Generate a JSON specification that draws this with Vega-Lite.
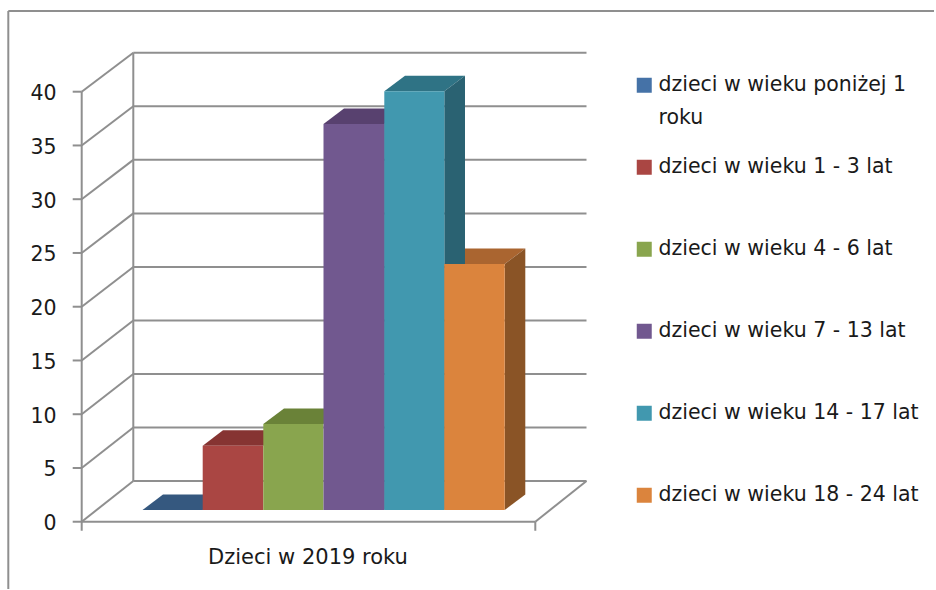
{
"$schema":"https://vega.github.io/schema/vega-lite/v6.json",
"autosize":{"type":"fit","contains":"padding"},
"width":936,"height":590,"padding":0,
"background":"white",
"config":{"view":{"stroke":null},"font":"DejaVu Sans"},
"datasets":{
"bars":[
{"series":"dzieci w wieku poniżej 1 roku","value":0,"x0":142.5,"x1":202.7,"base":1.09,"top":1.09},
{"series":"dzieci w wieku 1 - 3 lat","value":6,"x0":202.7,"x1":263.3,"base":1.09,"top":7.07},
{"series":"dzieci w wieku 4 - 6 lat","value":8,"x0":263.3,"x1":323.5,"base":1.09,"top":9.09},
{"series":"dzieci w wieku 7 - 13 lat","value":36,"x0":323.5,"x1":384.3,"base":1.09,"top":37.0},
{"series":"dzieci w wieku 14 - 17 lat","value":39,"x0":384.3,"x1":444.3,"base":1.09,"top":40.04},
{"series":"dzieci w wieku 18 - 24 lat","value":23,"x0":444.3,"x1":504.7,"base":1.09,"top":23.97}
],
"tops":[
{"series":"a","x":142.5,"lo":1.09,"hi":1.09},{"series":"a","x":163,"lo":1.09,"hi":2.53},{"series":"a","x":202.7,"lo":1.09,"hi":2.53},{"series":"a","x":223,"lo":2.53,"hi":2.53},
{"series":"b","x":202.7,"lo":7.07,"hi":7.07},{"series":"b","x":223,"lo":7.07,"hi":8.51},{"series":"b","x":263.3,"lo":7.07,"hi":8.51},{"series":"b","x":284,"lo":8.51,"hi":8.51},
{"series":"c","x":263.3,"lo":9.09,"hi":9.09},{"series":"c","x":284,"lo":9.09,"hi":10.53},{"series":"c","x":323.5,"lo":9.09,"hi":10.53},{"series":"c","x":344,"lo":10.53,"hi":10.53},
{"series":"d","x":323.5,"lo":37.0,"hi":37.0},{"series":"d","x":344,"lo":37.0,"hi":38.44},{"series":"d","x":384.3,"lo":37.0,"hi":38.44},{"series":"d","x":405,"lo":38.44,"hi":38.44},
{"series":"e","x":384.3,"lo":40.04,"hi":40.04},{"series":"e","x":405,"lo":40.04,"hi":41.48},{"series":"e","x":444.3,"lo":40.04,"hi":41.48},{"series":"e","x":465,"lo":41.48,"hi":41.48},
{"series":"f","x":444.3,"lo":23.97,"hi":23.97},{"series":"f","x":465,"lo":23.97,"hi":25.41},{"series":"f","x":504.7,"lo":23.97,"hi":25.41},{"series":"f","x":525.3,"lo":25.41,"hi":25.41}
],
"sides":[
{"series":"d","x":384.3,"lo":1.09,"hi":37.0},{"series":"d","x":405,"lo":2.53,"hi":38.44},
{"series":"e","x":444.3,"lo":1.09,"hi":40.04},{"series":"e","x":465,"lo":2.53,"hi":41.48},
{"series":"f","x":504.7,"lo":1.09,"hi":23.97},{"series":"f","x":525.3,"lo":2.53,"hi":25.41}
],
"lines":[
{"x":133.3,"y":3.79,"x2":586.5,"y2":3.79},{"x":133.3,"y":8.77,"x2":586.5,"y2":8.77},{"x":133.3,"y":13.74,"x2":586.5,"y2":13.74},{"x":133.3,"y":18.72,"x2":586.5,"y2":18.72},{"x":133.3,"y":23.7,"x2":586.5,"y2":23.7},{"x":133.3,"y":28.68,"x2":586.5,"y2":28.68},{"x":133.3,"y":33.66,"x2":586.5,"y2":33.66},{"x":133.3,"y":38.65,"x2":586.5,"y2":38.65},{"x":133.3,"y":43.63,"x2":586.5,"y2":43.63},
{"x":81.7,"y":0,"x2":133.3,"y2":3.79},{"x":81.7,"y":5,"x2":133.3,"y2":8.77},{"x":81.7,"y":10,"x2":133.3,"y2":13.74},{"x":81.7,"y":15,"x2":133.3,"y2":18.72},{"x":81.7,"y":20,"x2":133.3,"y2":23.7},{"x":81.7,"y":25,"x2":133.3,"y2":28.68},{"x":81.7,"y":30,"x2":133.3,"y2":33.66},{"x":81.7,"y":35,"x2":133.3,"y2":38.65},{"x":81.7,"y":40,"x2":133.3,"y2":43.63},
{"x":133.3,"y":3.79,"x2":133.3,"y2":43.63},
{"x":81.7,"y":-0.84,"x2":81.7,"y2":40},
{"x":81.7,"y":0,"x2":535.3,"y2":0},
{"x":535.3,"y":0,"x2":586.5,"y2":3.79},
{"x":535.3,"y":0,"x2":535.3,"y2":-0.84},
{"x":72.7,"y":0,"x2":81.7,"y2":0},{"x":72.7,"y":5,"x2":81.7,"y2":5},{"x":72.7,"y":10,"x2":81.7,"y2":10},{"x":72.7,"y":15,"x2":81.7,"y2":15},{"x":72.7,"y":20,"x2":81.7,"y2":20},{"x":72.7,"y":25,"x2":81.7,"y2":25},{"x":72.7,"y":30,"x2":81.7,"y2":30},{"x":72.7,"y":35,"x2":81.7,"y2":35},{"x":72.7,"y":40,"x2":81.7,"y2":40},
{"x":8.3,"y":-6.25,"x2":8.3,"y2":47.5},{"x":8.3,"y":47.5,"x2":934,"y2":47.5}
],
"caption":[{"x":308,"y":-3.38,"text":"Dzieci w 2019 roku"}]
},
"layer":[
{"data":{"name":"lines"},"mark":{"type":"rule","color":"#8f8f8f","strokeWidth":2},
"encoding":{
"x":{"field":"x","type":"quantitative","scale":{"domain":[0,936],"nice":false,"zero":false},"axis":null},
"y":{"field":"y","type":"quantitative","scale":{"domain":[-6.35,48.53],"nice":false,"zero":false},
"axis":{"values":[0,5,10,15,20,25,30,35,40],"offset":-76,"orient":"left","title":null,"domain":false,"ticks":false,"grid":false,"labelFontSize":20.5,"labelColor":"#1a1a1a","labelPadding":20,"labelOffset":2,"format":"d"}},
"x2":{"field":"x2"},"y2":{"field":"y2"}}},
{"data":{"name":"tops"},"mark":{"type":"area"},
"encoding":{"x":{"field":"x","type":"quantitative"},"y":{"field":"hi","type":"quantitative"},"y2":{"field":"lo"},
"detail":{"field":"series"},
"color":{"field":"series","type":"nominal","scale":{"domain":["a","b","c","d","e","f"],"range":["#35587f","#863432","#6a8238","#58416f","#2f7385","#aa6530"]},"legend":null}}},
{"data":{"name":"sides"},"mark":{"type":"area"},
"encoding":{"x":{"field":"x","type":"quantitative"},"y":{"field":"hi","type":"quantitative"},"y2":{"field":"lo"},
"detail":{"field":"series"},
"fill":{"field":"series","type":"nominal","scale":{"domain":["d","e","f"],"range":["#4a3660","#2a6272","#8a5426"]},"legend":null}}},
{"data":{"name":"bars"},"mark":{"type":"rect"},
"encoding":{"x":{"field":"x0","type":"quantitative"},"x2":{"field":"x1"},"y":{"field":"base","type":"quantitative"},"y2":{"field":"top"},
"fill":{"field":"series","type":"nominal","sort":null,"scale":{"domain":["dzieci w wieku poniżej 1 roku","dzieci w wieku 1 - 3 lat","dzieci w wieku 4 - 6 lat","dzieci w wieku 7 - 13 lat","dzieci w wieku 14 - 17 lat","dzieci w wieku 18 - 24 lat"],"range":["#4572a7","#aa4643","#89a54e","#71588f","#4198af","#db843d"]},
"legend":{"orient":"none","legendX":634,"legendY":75,"title":null,"symbolType":"square","symbolSize":225,"symbolStrokeWidth":0,"labelFontSize":20.5,"labelColor":"#1a1a1a","labelOffset":4,"labelLimit":300,"rowPadding":28,"gridAlign":"all",
"labelExpr":"datum.label == 'dzieci w wieku poniżej 1 roku' ? ['dzieci w wieku poniżej 1','roku'] : datum.label",
"encode":{"labels":{"update":{"lineHeight":{"value":33}}}}}}}},
{"data":{"name":"caption"},"mark":{"type":"text","fontSize":21,"color":"#1a1a1a"},
"encoding":{"x":{"field":"x","type":"quantitative"},"y":{"field":"y","type":"quantitative"},"text":{"field":"text"}}}
],
"resolve":{"scale":{"color":"independent","fill":"independent","stroke":"independent"}}
}
